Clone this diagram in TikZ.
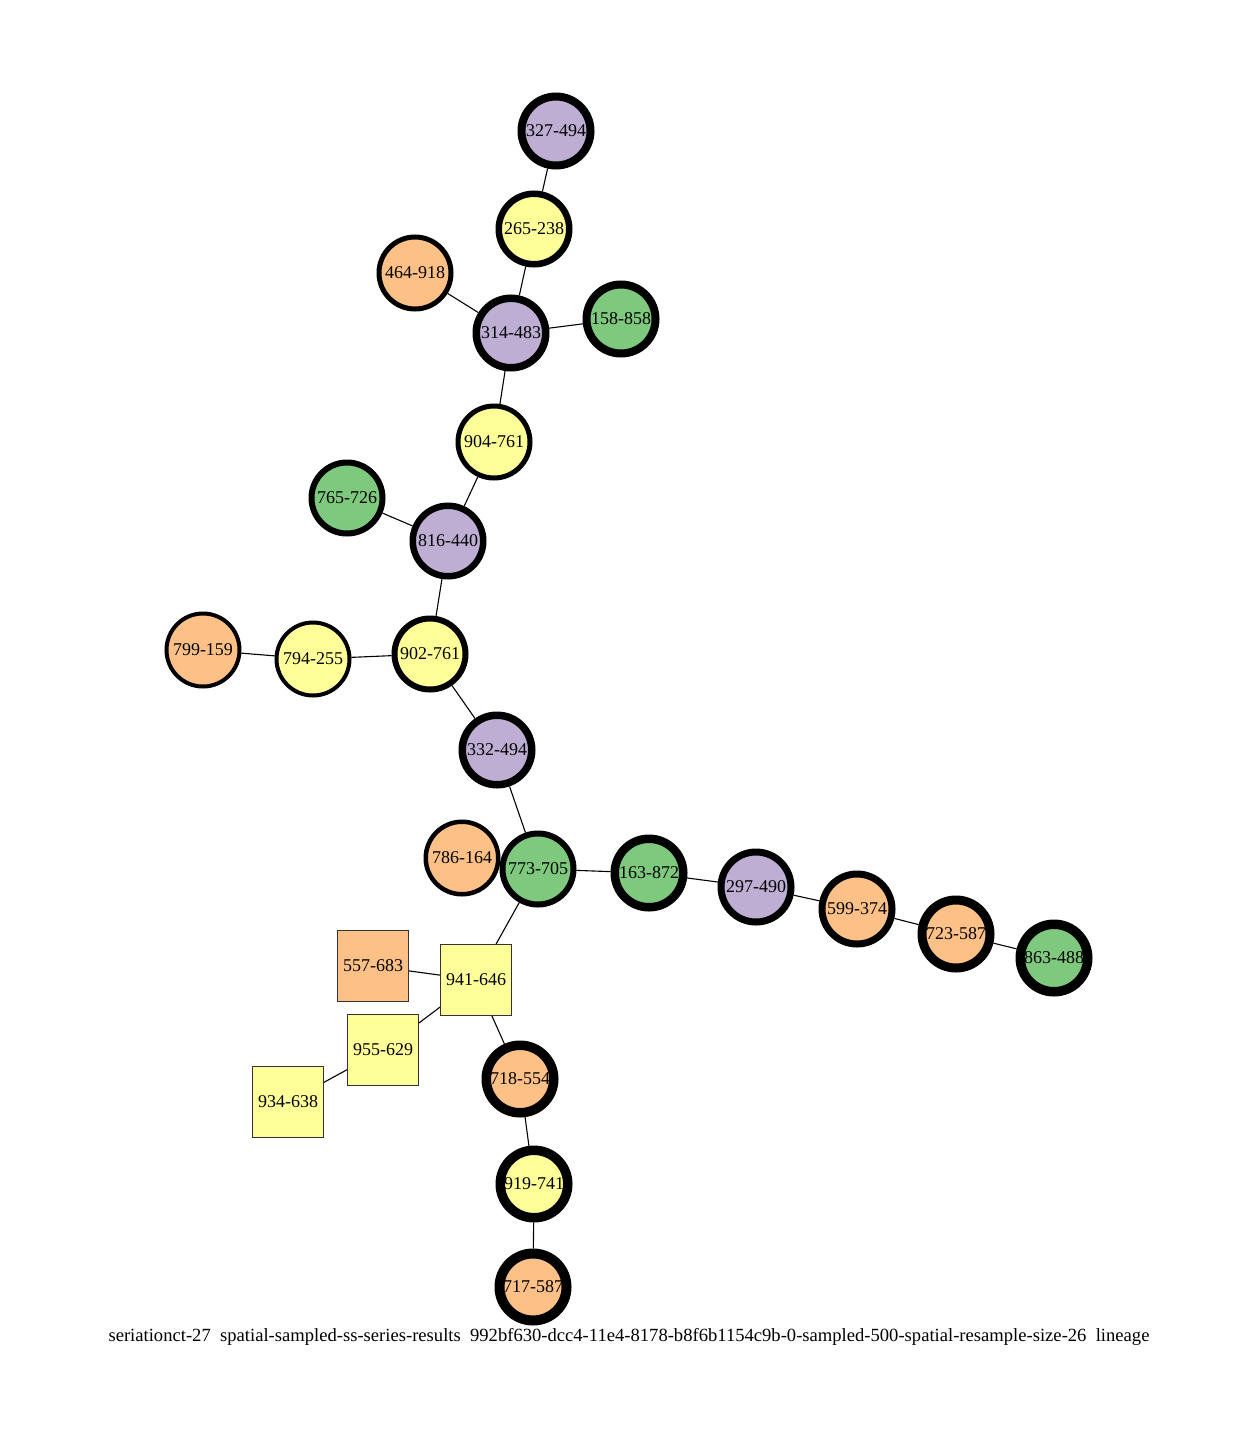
\documentclass[tikz,border=0pt]{standalone}
\usepackage{fontspec}
\setmainfont{Liberation Serif}
\definecolor{cgreen}{HTML}{7FC97F}
\definecolor{cpurple}{HTML}{BEAED4}
\definecolor{corange}{HTML}{FDC086}
\definecolor{cyellow}{HTML}{FFFF99}
\begin{document}
\begin{tikzpicture}[x=1pt,y=-1pt,
  cnode/.style 2 args={circle, draw=black, fill=#1, line width=#2, minimum size=77pt-#2, inner sep=0pt, font=\fontsize{18}{18}\selectfont},
  snode/.style={rectangle, draw=black!80, fill=#1, line width=1pt, minimum size=71pt, inner sep=0pt, font=\fontsize{18}{18}\selectfont},
  link/.style={draw=black, line width=1.1pt}]
\useasboundingbox (0,0) rectangle (1258,1448);
\node[cnode={cpurple}{8pt}] (n327) at (556,131) {327-494};
\node[cnode={cyellow}{6.5pt}] (n265) at (534,229) {265-238};
\node[cnode={corange}{5pt}] (n464) at (415,273) {464-918};
\node[cnode={cpurple}{7.5pt}] (n314) at (511,333) {314-483};
\node[cnode={cgreen}{8pt}] (n158) at (621,319) {158-858};
\node[cnode={cyellow}{5pt}] (n904) at (494,442) {904-761};
\node[cnode={cgreen}{6pt}] (n765) at (347,498) {765-726};
\node[cnode={cpurple}{6.5pt}] (n816) at (448,541) {816-440};
\node[cnode={corange}{4pt}] (n799) at (203,650) {799-159};
\node[cnode={cyellow}{4pt}] (n794) at (313,659) {794-255};
\node[cnode={cyellow}{6pt}] (n902) at (430,654) {902-761};
\node[cnode={cpurple}{7.5pt}] (n332) at (497,750) {332-494};
\node[cnode={corange}{4.5pt}] (n786) at (462,858) {786-164};
\node[cnode={cgreen}{6pt}] (n773) at (538,869) {773-705};
\node[cnode={cgreen}{8.5pt}] (n163) at (649,873) {163-872};
\node[cnode={cpurple}{7pt}] (n297) at (756,887) {297-490};
\node[cnode={corange}{7pt}] (n599) at (857,909) {599-374};
\node[cnode={corange}{9pt}] (n723) at (956,934) {723-587};
\node[cnode={cgreen}{9.5pt}] (n863) at (1054,958) {863-488};
\node[snode=corange] (n557) at (373,966) {557-683};
\node[snode=cyellow] (n941) at (476,980) {941-646};
\node[snode=cyellow] (n955) at (383,1050) {955-629};
\node[snode=cyellow] (n934) at (288,1102) {934-638};
\node[cnode={corange}{9.5pt}] (n718) at (520,1079) {718-554};
\node[cnode={cyellow}{9.5pt}] (n919) at (534,1184) {919-741};
\node[cnode={corange}{10pt}] (n717) at (533,1287) {717-587};
\path[link] (n327) -- (n265);
\path[link] (n265) -- (n314);
\path[link] (n464) -- (n314);
\path[link] (n314) -- (n158);
\path[link] (n314) -- (n904);
\path[link] (n904) -- (n816);
\path[link] (n765) -- (n816);
\path[link] (n816) -- (n902);
\path[link] (n799) -- (n794);
\path[link] (n794) -- (n902);
\path[link] (n902) -- (n332);
\path[link] (n332) -- (n773);
\path[link] (n773) -- (n163);
\path[link] (n163) -- (n297);
\path[link] (n297) -- (n599);
\path[link] (n599) -- (n723);
\path[link] (n723) -- (n863);
\path[link] (n773) -- (n941);
\path[link] (n557) -- (n941);
\path[link] (n941) -- (n955);
\path[link] (n955) -- (n934);
\path[link] (n941) -- (n718);
\path[link] (n718) -- (n919);
\path[link] (n919) -- (n717);
\node[font=\fontsize{18.6}{18.6}\selectfont, inner sep=0pt] (cap) at (629,1337) {seriationct-27\ \ spatial-sampled-ss-series-results\ \ 992bf630-dcc4-11e4-8178-b8f6b1154c9b-0-sampled-500-spatial-resample-size-26\ \ lineage};
\end{tikzpicture}
\end{document}
